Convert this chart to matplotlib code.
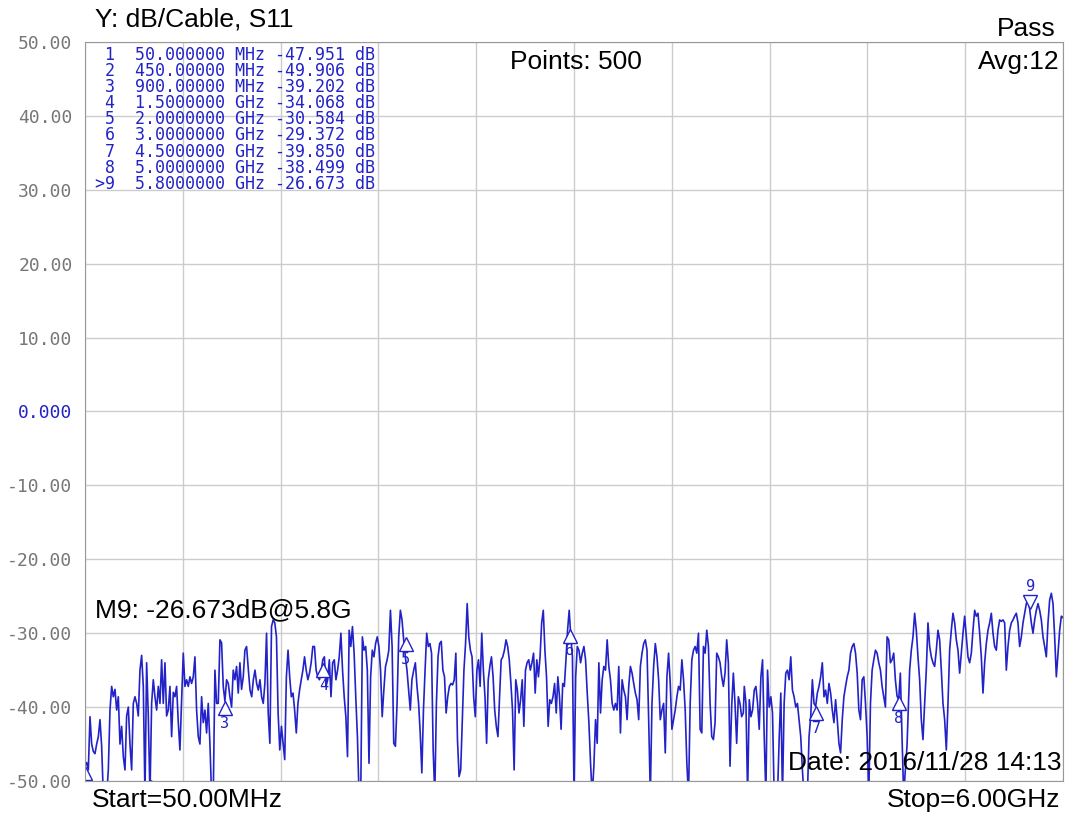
import numpy as np
import matplotlib.pyplot as plt
from matplotlib import transforms

# S11 trace in six pieces (dB), each piece spread over its own span in MHz
seg_edges = [(50, 1033), (1044, 2039), (2050, 3045), (3055, 4055), (4061, 5061), (5067, 6000)]
seg_a = [-48, -47.5, -48.5, -41.3, -45, -46, -46.3, -45, -44, -41.7, -45.3, -52, -52, -52, -48.5,
         -40.4, -37.2, -38.6, -37.6, -40.4, -38.6, -45, -42.6, -46.7, -48.5, -41.2, -40, -45, -48.5,
         -39.5, -38.6, -39.5, -41.2, -35, -33, -37.2, -52, -34, -41.2, -52, -39.5, -36.3, -38.6, -40.4,
         -37.2, -39.5, -33.6, -39.5, -34, -41.2, -40.4, -37.2, -44, -38, -38.6, -37.2, -42.1, -45.8,
         -39, -32.7, -37.2, -36.3, -37.2, -35.9, -36.8, -35.9, -33.2, -40.4, -44, -45, -38.6, -42.1,
         -40.4, -43.5, -39.5, -45, -52, -52, -35, -39.5, -39.5, -30.9, -31.3, -37.2, -39.2, -36.3,
         -36.8, -38.6, -40, -35, -36.3, -34.5, -38.1, -34, -37.6, -35.9, -32.3, -31.8]
seg_b = [-35, -37.7, -38.6, -36.3, -35, -36.8, -37.7, -36.3, -38.6, -39.5, -36.8, -30, -40.8, -44.9,
         -29.1, -28.2, -28.6, -30.5, -40.8, -45.8, -42.6, -44.9, -47.1, -35.9, -32.3, -35.9, -38.6,
         -38.1, -40.4, -43.5, -39.5, -37.7, -36.3, -35, -33.2, -35, -36.3, -35.4, -34, -31.8, -31.8,
         -35, -35.9, -36.3, -35.4, -33.6, -33.2, -37.2, -36.3, -33.6, -38.6, -34, -33.6, -36.3, -35,
         -33.2, -30, -35, -38.6, -41.3, -46.7, -29.6, -31.8, -29.1, -32.7, -38.6, -44, -52, -52,
         -30.5, -32.3, -31.8, -35, -47.6, -35.9, -32.3, -33.2, -31.4, -30.5, -31.8, -35, -41.3,
         -37.7, -34.5, -33.6, -32.3, -26.9, -31.8, -44.9, -45.3, -39.5, -30.5, -26.9, -28.2, -30.9,
         -33.2, -35, -37.7, -40.4, -36.3]
seg_c = [-35, -34, -37.2, -39.5, -43.5, -48.9, -40.4, -35, -30, -31.8, -31.4, -32.7, -45.8, -52,
         -39.5, -33.2, -31.4, -31.1, -35, -35.9, -40.8, -38.6, -37.2, -36.8, -37, -36.3, -32.7,
         -44.4, -49.4, -48.5, -41.7, -35, -31.4, -26, -30.5, -32.3, -33.2, -38.6, -41.3, -35, -33.6,
         -37.2, -30, -35, -38.6, -44.9, -36.3, -34.5, -33.2, -35.9, -40.4, -42.6, -44, -38.6, -33.6,
         -33.2, -32.3, -30.9, -31.8, -33.6, -36.8, -40.4, -48.5, -36.3, -37.7, -40.8, -39, -36.3,
         -42.6, -35, -34, -33.6, -35, -34, -32.7, -38.1, -33.6, -35.9, -33.2, -28.6, -26.9, -32.3,
         -35.9, -42.6, -39, -39.5, -38.6, -36.8, -40.8, -35.9, -38.6, -43, -36.8, -37.2, -33.6,
         -29.6, -26.9, -30.5, -33.2, -52, -35.9, -31.8]
seg_d = [-32.3, -34, -32.7, -31.8, -33.6, -38.1, -42.1, -47.6, -52, -48, -41.7, -44.9, -34, -40.8,
         -36.3, -34.5, -35, -30.9, -34.5, -36.3, -39.5, -40.4, -39.5, -40.4, -34.5, -43.5, -36.3,
         -37.7, -38.6, -41.7, -37.2, -34.5, -35.4, -36.8, -38.1, -39, -41.7, -34.5, -32.7, -31.4,
         -30.9, -32.3, -41.7, -52, -39.5, -34.5, -31.4, -33.2, -36.3, -41.7, -40.4, -39.5, -46.2,
         -35.9, -32.7, -36.8, -43, -41.7, -40.4, -38.6, -37.2, -37.7, -33.6, -36.3, -40.4, -47.6,
         -52, -39.5, -33.6, -32.3, -31.8, -32.7, -30, -43, -43.5, -31.8, -32.7, -29.6, -31.8, -39.5,
         -44, -44.4, -42.1, -32.7, -33.2, -34, -35.9, -37.2, -35.4, -30.9, -34, -48, -39.9, -35.4,
         -39.5, -44.9, -38.6, -39.5, -41.3, -40.8]
seg_e = [-37.2, -39.5, -52, -39, -41.3, -40.4, -37.7, -37.2, -39.5, -43, -35.9, -33.6, -44, -52, -35,
         -40, -38.6, -40.8, -52, -52, -52, -44.4, -38.1, -52, -39.5, -35.4, -35, -36.3, -33.2, -37.7,
         -38.6, -40, -39.5, -41.7, -44, -48.5, -52, -52, -52, -44, -41.3, -36.3, -39.5, -39.9, -38.1,
         -37.2, -35.9, -34, -38.6, -37.7, -39.5, -36.8, -38.1, -40.4, -42.1, -39, -41.7, -44.9,
         -46.2, -41.7, -38.6, -37.2, -35.9, -35, -32.7, -31.8, -31.4, -32.7, -35.4, -40.4, -41.7,
         -36.3, -35.9, -39.5, -44, -52, -39.5, -35, -33.6, -32.3, -32.7, -34, -35, -37.2, -38.6, -40,
         -30.5, -30.9, -34, -33.6, -32.7, -36.3, -38.5, -39, -35.4, -44, -52, -48.5, -45.3, -38.6]
seg_f = [-35, -32.3, -30.5, -27.3, -29.6, -33.2, -36.3, -41.7, -44.4, -39.5, -35, -28.6, -31.8,
         -33.2, -34, -34.5, -32.3, -29.6, -30.9, -35, -39.5, -41.7, -45.8, -39.5, -32.3, -29.6,
         -27.3, -28.6, -30.9, -32.3, -35.4, -32.7, -30, -27.7, -30.5, -33.2, -34, -32.7, -29.6,
         -26.9, -27.7, -27.3, -30, -33.2, -38.1, -34, -31.4, -29.6, -28.6, -27.3, -30, -31.8, -32.3,
         -29.6, -28.2, -28.4, -28.2, -28.6, -35, -31.8, -29.6, -28.6, -28.2, -27.7, -27.3, -28.6,
         -31.8, -30.5, -28.6, -27.3, -26, -25.5, -26.7, -28.6, -30, -28.2, -26.9, -26, -26.9, -28.2,
         -30.5, -31.8, -33.2, -28.6, -25.5, -24.6, -26, -30.5, -35.9, -32.7, -29.6, -27.7, -27.9]
segs = [seg_a, seg_b, seg_c, seg_d, seg_e, seg_f]

marker_ids = [1, 2, 3, 4, 5, 6, 7, 8, 9]
marker_mhz = [50, 450, 900, 1500, 2000, 3000, 4500, 5000, 5800]
marker_text = ['50.000000 MHz', '450.00000 MHz', '900.00000 MHz', '1.5000000 GHz', '2.0000000 GHz',
               '3.0000000 GHz', '4.5000000 GHz', '5.0000000 GHz', '5.8000000 GHz']
marker_db = [-47.951, -49.906, -39.202, -34.068, -30.584, -29.372, -39.850, -38.499, -26.673]

y_ticks = [50, 40, 30, 20, 10, 0, -10, -20, -30, -40, -50]
y_labels = ['50.00', '40.00', '30.00', '20.00', '10.00', '0.000',
            '-10.00', '-20.00', '-30.00', '-40.00', '-50.00']

blue = '#2222c8'
W, H = 1066, 814

fig = plt.figure(figsize=(W / 100, H / 100), dpi=100)
ax = fig.add_axes([85 / W, 1 - 781 / H, (1063 - 85) / W, (781 - 42) / H])

freq = np.concatenate([np.linspace(a, b, len(s)) for (a, b), s in zip(seg_edges, segs)])
db = np.concatenate(segs)
ax.plot(freq, db, color=blue, lw=1.2)

ax.set_xlim(50, 6000)
ax.set_ylim(-50, 50)
ax.set_xticks(np.linspace(50, 6000, 11))
ax.set_xticklabels([])
ax.set_yticks(y_ticks)
ax.set_yticklabels(y_labels, family='DejaVu Sans Mono', fontsize=13, color='#777777')
ax.get_yticklabels()[5].set_color(blue)
ax.tick_params(length=0, pad=9)
ax.grid(color='#cccccc', lw=1)
for sp in ax.spines.values():
    sp.set_color('#999999')

# marker triangles: 1-8 point up under the trace, 9 (active) points down above it
for i, f, v in zip(marker_ids, marker_mhz, marker_db):
    up = i < 9
    tr = transforms.offset_copy(ax.transData, fig=fig, y=-5 if up else 5, units='points')
    ax.plot(f, v, marker='^' if up else 'v', ms=10, mfc='white', mec=blue, mew=1, transform=tr)
    if v < -45:
        continue  # number would sit under the bottom of the screen
    tr_lab = transforms.offset_copy(ax.transData, fig=fig, y=-16 if up else 16, units='points')
    ax.text(f, v, str(i), transform=tr_lab, ha='center', va='center', color=blue,
            fontsize=11, family='DejaVu Sans Mono', clip_on=True)

# marker table
for k, (i, ft, v) in enumerate(zip(marker_ids, marker_text, marker_db)):
    pre = '>' if i == 9 else ' '
    fig.text(95 / W, 1 - (55 + 16.1 * k) / H, f'{pre}{i}  {ft} {v:.3f} dB',
             family='DejaVu Sans Mono', fontsize=12, color=blue, va='center', ha='left')

sans = 'Liberation Sans'
fs = 19
fig.text(95 / W, 1 - 20 / H, 'Y: dB/Cable, S11', family=sans, fontsize=fs, va='center')
fig.text(1056 / W, 1 - 29 / H, 'Pass', family=sans, fontsize=fs, va='center', ha='right')
fig.text(510 / W, 1 - 62 / H, 'Points: 500', family=sans, fontsize=fs, va='center')
fig.text(1060 / W, 1 - 62 / H, 'Avg:12', family=sans, fontsize=fs, va='center', ha='right')
fig.text(95 / W, 1 - 610 / H, 'M9: -26.673dB@5.8G', family=sans, fontsize=fs, va='center')
fig.text(1061 / W, 1 - 763 / H, 'Date: 2016/11/28 14:13', family=sans, fontsize=fs,
         va='center', ha='right')
fig.text(92 / W, 1 - 800 / H, 'Start=50.00MHz', family=sans, fontsize=fs, va='center')
fig.text(1060 / W, 1 - 800 / H, 'Stop=6.00GHz', family=sans, fontsize=fs, va='center', ha='right')

fig.savefig('out.png', dpi=100)
